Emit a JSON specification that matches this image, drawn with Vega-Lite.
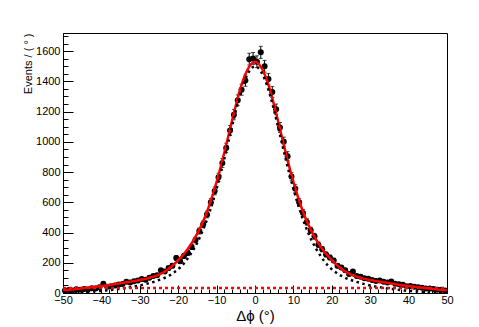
{
  "$schema": "https://vega.github.io/schema/vega-lite/v6.json",
  "width": 384,
  "height": 260,
  "autosize": "none",
  "padding": {"left": 63, "top": 33, "right": 32, "bottom": 34},
  "background": "white",
  "config": {"view": {"stroke": "black", "strokeWidth": 1}, "font": "Liberation Sans"},
  "resolve": {"axis": {"x": "independent", "y": "independent"}},
  "datasets": {
    "bkg": [{"x": -50, "y": 33}, {"x": 50, "y": 33}],
    "fit": [
      {"x": -50, "fit": 17, "sig": 3}, {"x": -49, "fit": 20, "sig": 3.5}, {"x": -48, "fit": 22, "sig": 4}, {"x": -47, "fit": 25, "sig": 5},
      {"x": -46, "fit": 28, "sig": 6}, {"x": -45, "fit": 31, "sig": 7}, {"x": -44, "fit": 34, "sig": 8}, {"x": -43, "fit": 37, "sig": 9.5},
      {"x": -42, "fit": 40, "sig": 11}, {"x": -41, "fit": 43, "sig": 12.5}, {"x": -40, "fit": 46, "sig": 14}, {"x": -39, "fit": 49, "sig": 16},
      {"x": -38, "fit": 53, "sig": 19}, {"x": -37, "fit": 57, "sig": 22}, {"x": -36, "fit": 61, "sig": 25}, {"x": -35, "fit": 65, "sig": 28},
      {"x": -34, "fit": 69, "sig": 32}, {"x": -33, "fit": 73, "sig": 36}, {"x": -32, "fit": 77, "sig": 40}, {"x": -31, "fit": 81, "sig": 45},
      {"x": -30, "fit": 86, "sig": 50}, {"x": -29, "fit": 91, "sig": 56}, {"x": -28, "fit": 97, "sig": 62}, {"x": -27, "fit": 104, "sig": 69},
      {"x": -26, "fit": 112, "sig": 77}, {"x": -25, "fit": 122, "sig": 86}, {"x": -24, "fit": 135, "sig": 95}, {"x": -23, "fit": 151, "sig": 107},
      {"x": -22, "fit": 170, "sig": 120}, {"x": -21, "fit": 193, "sig": 137}, {"x": -20, "fit": 218, "sig": 157}, {"x": -19, "fit": 245, "sig": 182},
      {"x": -18, "fit": 275, "sig": 212}, {"x": -17, "fit": 310, "sig": 248}, {"x": -16, "fit": 350, "sig": 289}, {"x": -15, "fit": 395, "sig": 335},
      {"x": -14, "fit": 446, "sig": 390}, {"x": -13, "fit": 505, "sig": 452}, {"x": -12, "fit": 573, "sig": 523}, {"x": -11, "fit": 650, "sig": 602},
      {"x": -10, "fit": 735, "sig": 690}, {"x": -9, "fit": 828, "sig": 785}, {"x": -8, "fit": 928, "sig": 887}, {"x": -7, "fit": 1032, "sig": 993},
      {"x": -6, "fit": 1138, "sig": 1101}, {"x": -5, "fit": 1240, "sig": 1205}, {"x": -4, "fit": 1335, "sig": 1302}, {"x": -3, "fit": 1415, "sig": 1383},
      {"x": -2, "fit": 1475, "sig": 1444}, {"x": -1, "fit": 1515, "sig": 1485}, {"x": 0, "fit": 1530, "sig": 1500},
      {"x": 1, "fit": 1515, "sig": 1485}, {"x": 2, "fit": 1475, "sig": 1444}, {"x": 3, "fit": 1415, "sig": 1383}, {"x": 4, "fit": 1335, "sig": 1302},
      {"x": 5, "fit": 1240, "sig": 1205}, {"x": 6, "fit": 1138, "sig": 1101}, {"x": 7, "fit": 1032, "sig": 993}, {"x": 8, "fit": 928, "sig": 887},
      {"x": 9, "fit": 828, "sig": 785}, {"x": 10, "fit": 735, "sig": 690}, {"x": 11, "fit": 650, "sig": 602}, {"x": 12, "fit": 573, "sig": 523},
      {"x": 13, "fit": 505, "sig": 452}, {"x": 14, "fit": 446, "sig": 390}, {"x": 15, "fit": 395, "sig": 335}, {"x": 16, "fit": 350, "sig": 289},
      {"x": 17, "fit": 310, "sig": 248}, {"x": 18, "fit": 275, "sig": 212}, {"x": 19, "fit": 245, "sig": 182}, {"x": 20, "fit": 218, "sig": 157},
      {"x": 21, "fit": 193, "sig": 137}, {"x": 22, "fit": 170, "sig": 120}, {"x": 23, "fit": 151, "sig": 107}, {"x": 24, "fit": 135, "sig": 95},
      {"x": 25, "fit": 122, "sig": 86}, {"x": 26, "fit": 112, "sig": 77}, {"x": 27, "fit": 104, "sig": 69}, {"x": 28, "fit": 97, "sig": 62},
      {"x": 29, "fit": 91, "sig": 56}, {"x": 30, "fit": 86, "sig": 50}, {"x": 31, "fit": 81, "sig": 45}, {"x": 32, "fit": 77, "sig": 40},
      {"x": 33, "fit": 73, "sig": 36}, {"x": 34, "fit": 69, "sig": 32}, {"x": 35, "fit": 65, "sig": 28}, {"x": 36, "fit": 61, "sig": 25},
      {"x": 37, "fit": 57, "sig": 22}, {"x": 38, "fit": 53, "sig": 19}, {"x": 39, "fit": 49, "sig": 16}, {"x": 40, "fit": 46, "sig": 14},
      {"x": 41, "fit": 43, "sig": 12.5}, {"x": 42, "fit": 40, "sig": 11}, {"x": 43, "fit": 37, "sig": 9.5}, {"x": 44, "fit": 34, "sig": 8},
      {"x": 45, "fit": 31, "sig": 7}, {"x": 46, "fit": 28, "sig": 6}, {"x": 47, "fit": 25, "sig": 5}, {"x": 48, "fit": 22, "sig": 4},
      {"x": 49, "fit": 20, "sig": 3.5}, {"x": 50, "fit": 17, "sig": 3}
    ],
    "points": [
      {"x": -49.5, "y": 16, "err": 4}, {"x": -48.5, "y": 20, "err": 4.5}, {"x": -47.5, "y": 17, "err": 4.1}, {"x": -46.5, "y": 24, "err": 4.9},
      {"x": -45.5, "y": 21, "err": 4.6}, {"x": -44.5, "y": 27, "err": 5.2}, {"x": -43.5, "y": 23, "err": 4.8}, {"x": -42.5, "y": 32, "err": 5.7},
      {"x": -41.5, "y": 30, "err": 5.5}, {"x": -40.5, "y": 38, "err": 6.2}, {"x": -39.5, "y": 62, "err": 7.9}, {"x": -38.5, "y": 42, "err": 6.5},
      {"x": -37.5, "y": 45, "err": 6.7}, {"x": -36.5, "y": 50, "err": 7.1}, {"x": -35.5, "y": 56, "err": 7.5}, {"x": -34.5, "y": 60, "err": 7.7},
      {"x": -33.5, "y": 75, "err": 8.7}, {"x": -32.5, "y": 70, "err": 8.4}, {"x": -31.5, "y": 78, "err": 8.8}, {"x": -30.5, "y": 82, "err": 9.1},
      {"x": -29.5, "y": 92, "err": 9.6}, {"x": -28.5, "y": 88, "err": 9.4}, {"x": -27.5, "y": 101, "err": 10}, {"x": -26.5, "y": 112, "err": 10.6},
      {"x": -25.5, "y": 118, "err": 10.9}, {"x": -24.5, "y": 150, "err": 12.2}, {"x": -23.5, "y": 142, "err": 11.9}, {"x": -22.5, "y": 165, "err": 12.8},
      {"x": -21.5, "y": 180, "err": 13.4}, {"x": -20.5, "y": 232, "err": 15.2}, {"x": -19.5, "y": 210, "err": 14.5}, {"x": -18.5, "y": 245, "err": 15.7},
      {"x": -17.5, "y": 265, "err": 16.3}, {"x": -16.5, "y": 305, "err": 17.5}, {"x": -15.5, "y": 350, "err": 18.7}, {"x": -14.5, "y": 410, "err": 20.2},
      {"x": -13.5, "y": 455, "err": 21.3}, {"x": -12.5, "y": 520, "err": 22.8}, {"x": -11.5, "y": 600, "err": 24.5}, {"x": -10.5, "y": 675, "err": 26},
      {"x": -9.5, "y": 765, "err": 27.7}, {"x": -8.5, "y": 860, "err": 29.3}, {"x": -7.5, "y": 960, "err": 31}, {"x": -6.5, "y": 1075, "err": 32.8},
      {"x": -5.5, "y": 1180, "err": 34.4}, {"x": -4.5, "y": 1275, "err": 35.7}, {"x": -3.5, "y": 1345, "err": 36.7}, {"x": -2.5, "y": 1405, "err": 37.5},
      {"x": -1.5, "y": 1547, "err": 39.3}, {"x": -0.5, "y": 1552, "err": 39.4}, {"x": 0.5, "y": 1530, "err": 39.1}, {"x": 1.5, "y": 1592, "err": 39.9},
      {"x": 2.5, "y": 1500, "err": 38.7}, {"x": 3.5, "y": 1415, "err": 37.6}, {"x": 4.5, "y": 1330, "err": 36.5}, {"x": 5.5, "y": 1215, "err": 34.9},
      {"x": 6.5, "y": 1095, "err": 33.1}, {"x": 7.5, "y": 1000, "err": 31.6}, {"x": 8.5, "y": 905, "err": 30.1}, {"x": 9.5, "y": 770, "err": 27.7},
      {"x": 10.5, "y": 690, "err": 26.3}, {"x": 11.5, "y": 600, "err": 24.5}, {"x": 12.5, "y": 530, "err": 23}, {"x": 13.5, "y": 470, "err": 21.7},
      {"x": 14.5, "y": 415, "err": 20.4}, {"x": 15.5, "y": 375, "err": 19.4}, {"x": 16.5, "y": 320, "err": 17.9}, {"x": 17.5, "y": 290, "err": 17},
      {"x": 18.5, "y": 255, "err": 16}, {"x": 19.5, "y": 235, "err": 15.3}, {"x": 20.5, "y": 215, "err": 14.7}, {"x": 21.5, "y": 180, "err": 13.4},
      {"x": 22.5, "y": 168, "err": 13}, {"x": 23.5, "y": 150, "err": 12.2}, {"x": 24.5, "y": 125, "err": 11.2}, {"x": 25.5, "y": 143, "err": 12},
      {"x": 26.5, "y": 112, "err": 10.6}, {"x": 27.5, "y": 108, "err": 10.4}, {"x": 28.5, "y": 98, "err": 9.9}, {"x": 29.5, "y": 95, "err": 9.7},
      {"x": 30.5, "y": 86, "err": 9.3}, {"x": 31.5, "y": 80, "err": 8.9}, {"x": 32.5, "y": 82, "err": 9.1}, {"x": 33.5, "y": 74, "err": 8.6},
      {"x": 34.5, "y": 70, "err": 8.4}, {"x": 35.5, "y": 76, "err": 8.7}, {"x": 36.5, "y": 62, "err": 7.9}, {"x": 37.5, "y": 58, "err": 7.6},
      {"x": 38.5, "y": 54, "err": 7.3}, {"x": 39.5, "y": 45, "err": 6.7}, {"x": 40.5, "y": 46, "err": 6.8}, {"x": 41.5, "y": 42, "err": 6.5},
      {"x": 42.5, "y": 38, "err": 6.2}, {"x": 43.5, "y": 35, "err": 5.9}, {"x": 44.5, "y": 30, "err": 5.5}, {"x": 45.5, "y": 30, "err": 5.5},
      {"x": 46.5, "y": 26, "err": 5.1}, {"x": 47.5, "y": 22, "err": 4.7}, {"x": 48.5, "y": 21, "err": 4.6}, {"x": 49.5, "y": 17, "err": 4.1}
    ]
  },
  "layer": [
    {
      "data": {"name": "points"},
      "mark": {"type": "errorbar", "color": "black", "thickness": 1, "ticks": {"size": 4, "color": "black"}},
      "encoding": {
        "x": {"field": "x", "type": "quantitative",
          "scale": {"domain": [-50, 50], "nice": false, "zero": false},
          "axis": {
            "orient": "bottom",
            "values": [-50,-40,-30,-20,-10,0,10,20,30,40,50],
            "format": "d",
            "tickSize": -8,
            "labelPadding": 9, "labelFontSize": 11, "labelFont": "Liberation Sans", "labelColor": "black",
            "labelFlush": false, "labelOverlap": false, "labelBound": false,
            "tickColor": "black", "domainColor": "black", "grid": false,
            "title": "Δϕ (°)", "titleFontSize": 15, "titleFontWeight": "normal", "titleFont": "Liberation Sans", "titleColor": "black",
            "titleX": 192, "titleY": 27, "titleAlign": "center", "titleBaseline": "alphabetic"
          }
        },
        "y": {"field": "y", "type": "quantitative",
          "scale": {"domain": [0, 1720], "nice": false, "zero": true},
          "axis": {
            "orient": "left",
            "values": [0,200,400,600,800,1000,1200,1400,1600],
            "format": "d",
            "tickSize": -10,
            "labelPadding": 13, "labelFontSize": 11, "labelFont": "Liberation Sans", "labelColor": "black",
            "labelFlush": false, "labelOverlap": false, "labelBound": false,
            "tickColor": "black", "domainColor": "black", "grid": false,
            "title": "Events / ( ° )", "titleFontSize": 11, "titleFontWeight": "normal", "titleFont": "Liberation Sans", "titleColor": "black",
            "titleX": -32, "titleY": 0, "titleAngle": -90, "titleAlign": "right", "titleBaseline": "alphabetic"
          }
        },
        "yError": {"field": "err"}
      }
    },
    {
      "data": {"name": "points"},
      "mark": {"type": "circle", "color": "black", "size": 36, "opacity": 1},
      "encoding": {
        "x": {"field": "x", "type": "quantitative",
          "axis": {"orient": "bottom", "values": [-48,-46,-44,-42,-38,-36,-34,-32,-28,-26,-24,-22,-18,-16,-14,-12,-8,-6,-4,-2,2,4,6,8,12,14,16,18,22,24,26,28,32,34,36,38,42,44,46,48],
            "tickSize": -4, "tickColor": "black", "labels": false, "domain": false, "grid": false, "title": null}},
        "y": {"field": "y", "type": "quantitative",
          "axis": {"orient": "left", "values": [50,100,150,250,300,350,450,500,550,650,700,750,850,900,950,1050,1100,1150,1250,1300,1350,1450,1500,1550,1650,1700],
            "tickSize": -5, "tickColor": "black", "labels": false, "domain": false, "grid": false, "title": null}}
      }
    },
    {
      "data": {"name": "fit"},
      "mark": {"type": "line", "color": "#ff0000", "strokeWidth": 2.5, "interpolate": "monotone"},
      "encoding": {
        "x": {"field": "x", "type": "quantitative", "axis": null},
        "y": {"field": "fit", "type": "quantitative", "axis": null}
      }
    },
    {
      "data": {"name": "fit"},
      "mark": {"type": "line", "color": "black", "strokeWidth": 2.5, "strokeDash": [2.5, 3.5], "interpolate": "monotone"},
      "encoding": {
        "x": {"field": "x", "type": "quantitative", "axis": null},
        "y": {"field": "sig", "type": "quantitative", "axis": null}
      }
    },
    {
      "data": {"name": "bkg"},
      "mark": {"type": "line", "color": "#ff0000", "strokeWidth": 2.5, "strokeDash": [3, 3]},
      "encoding": {
        "x": {"field": "x", "type": "quantitative", "axis": null},
        "y": {"field": "y", "type": "quantitative", "axis": null}
      }
    }
  ]
}
